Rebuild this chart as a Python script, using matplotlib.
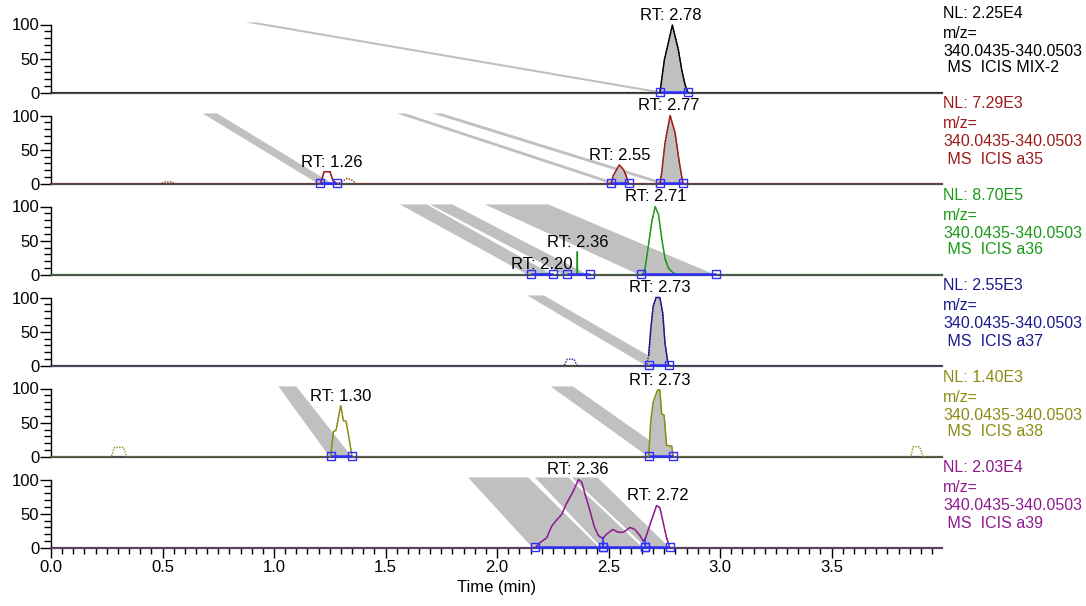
import numpy as np
import matplotlib
matplotlib.use('Agg')
import matplotlib.pyplot as plt
from matplotlib.ticker import MultipleLocator, FixedLocator

plt.rcParams['font.family'] = ['Liberation Sans', 'DejaVu Sans']

# ---------------- data ----------------
sample_names = ['MIX-2', 'a35', 'a36', 'a37', 'a38', 'a39']
nl_values = ['2.25E4', '7.29E3', '8.70E5', '2.55E3', '1.40E3', '2.03E4']
mz_range = '340.0435-340.0503'
colors = ['#000000', '#9B1B1B', '#1A991A', '#1A1A8C', '#8C8C14', '#8E1A8E']

# traces: time (min) / relative abundance (%)
mix2_t = [0.0, 2.73, 2.738, 2.75, 2.786, 2.813, 2.828, 2.843, 2.857, 4.0]
mix2_y = [0, 0, 19, 48, 99, 63, 34, 12, 0, 0]

a35_t = [0.0, 0.49, 0.51, 0.54, 0.56, 1.206, 1.214, 1.224, 1.251, 1.263, 1.281,
         1.303, 1.326, 1.348, 1.37, 2.51, 2.522, 2.548, 2.567, 2.58, 2.59,
         2.73, 2.738, 2.753, 2.776, 2.798, 2.818, 2.828, 2.835, 4.0]
a35_y = [0, 0, 3, 3, 0, 0, 6, 18, 18, 6, 0,
         3, 8, 6, 0, 0, 13, 28, 21, 11, 0,
         0, 16, 60, 100, 75, 30, 11, 0, 0]

a36_t = [0.0, 2.15, 2.20, 2.25, 2.315, 2.3595, 2.36, 2.3605, 2.415,
         2.645, 2.655, 2.664, 2.679, 2.694, 2.709, 2.724, 2.738, 2.753, 2.768, 2.79, 2.81, 2.98, 4.0]
a36_y = [0, 0, 2, 0, 0, 0, 34, 0, 0,
         0, 0, 10, 44, 78, 100, 88, 54, 24, 10, 3, 0, 0, 0]

a37_t = [0.0, 2.30, 2.315, 2.345, 2.36, 2.67, 2.68, 2.689, 2.70, 2.713, 2.73,
         2.743, 2.753, 2.764, 2.77, 4.0]
a37_y = [0, 0, 10, 10, 0, 0, 16, 53, 87, 100, 100,
         77, 33, 9, 0, 0]

a38_t = [0.0, 0.27, 0.285, 0.325, 0.34, 1.254, 1.266, 1.278, 1.299, 1.311, 1.323, 1.333, 1.35,
         2.68, 2.689, 2.70, 2.72, 2.73, 2.738, 2.749, 2.76, 2.783, 2.79,
         3.855, 3.865, 3.895, 3.91, 4.0]
a38_y = [0, 0, 14, 14, 0, 0, 37, 39, 75, 53, 52, 34, 0,
         0, 53, 80, 98, 98, 63, 61, 17, 16, 0,
         0, 15, 15, 0, 0]

a39_t = [0.0, 2.17, 2.193, 2.223, 2.245, 2.27, 2.29, 2.31, 2.342, 2.365, 2.38, 2.395,
         2.417, 2.435, 2.454, 2.475, 2.49, 2.519, 2.543, 2.567, 2.596, 2.618, 2.641,
         2.656, 2.664, 2.693, 2.715, 2.73, 2.745, 2.76, 2.775, 4.0]
a39_y = [0, 0, 8, 15, 32, 42, 49, 64, 83, 100, 96, 78,
         54, 32, 18, 14, 20, 27, 23, 23, 30, 27, 18,
         10, 13, 41, 62, 59, 37, 15, 0, 0]

# integration windows (start, end) and whether the peak area is shaded
mix2_win = [(2.73, 2.857)]
a35_win = [(1.206, 1.281), (2.51, 2.59), (2.73, 2.835)]
a36_win = [(2.15, 2.25), (2.315, 2.415), (2.645, 2.98)]
a37_win = [(2.68, 2.77)]
a38_win = [(1.254, 1.35), (2.68, 2.79)]
a39_win = [(2.17, 2.475), (2.475, 2.664), (2.664, 2.775)]

mix2_fill = [True]
a35_fill = [False, True, True]
a36_fill = [False, False, False]
a37_fill = [True]
a38_fill = [False, True]
a39_fill = [False, False, False]

# retention-time labels
mix2_rt = [2.78]
a35_rt = [1.26, 2.55, 2.77]
a36_rt = [2.20, 2.36, 2.71]
a37_rt = [2.73]
a38_rt = [1.30, 2.73]
a39_rt = [2.36, 2.72]

# grey shading bands (top-left x, top-right x, bottom-left x, bottom-right x)
mix2_bands = [(0.87, 0.925, 2.72, 2.775)]
a35_bands = [(0.68, 0.745, 1.20, 1.265), (1.55, 1.59, 2.51, 2.55), (1.71, 1.753, 2.73, 2.773)]
a36_bands = [(1.565, 1.685, 2.14, 2.25), (1.70, 1.80, 2.30, 2.41), (1.945, 2.23, 2.64, 2.98)]
a37_bands = [(2.135, 2.21, 2.67, 2.76)]
a38_bands = [(1.02, 1.10, 1.25, 1.35), (2.24, 2.34, 2.68, 2.79)]
a39_bands = [(1.87, 2.14, 2.16, 2.46), (2.17, 2.32, 2.47, 2.655), (2.335, 2.45, 2.67, 2.775)]
band_top = 103

# vertical drop lines between adjacent integrated peaks (a39)
a39_drops = [2.475, 2.664]

traces_t = [mix2_t, a35_t, a36_t, a37_t, a38_t, a39_t]
traces_y = [mix2_y, a35_y, a36_y, a37_y, a38_y, a39_y]
windows = [mix2_win, a35_win, a36_win, a37_win, a38_win, a39_win]
fills = [mix2_fill, a35_fill, a36_fill, a37_fill, a38_fill, a39_fill]
rts = [mix2_rt, a35_rt, a36_rt, a37_rt, a38_rt, a39_rt]
bands = [mix2_bands, a35_bands, a36_bands, a37_bands, a38_bands, a39_bands]
drops = [[], [], [], [], [], a39_drops]

# ---------------- layout ----------------
W, H = 1086, 606
fig = plt.figure(figsize=(W / 100, H / 100), dpi=100)
left_px, right_px = 51, 942
base_px = [93, 184, 275, 366, 457, 548]
px_per_pct = 0.685
YMAX = 132
GREY = '#C0C0C0'
BLUE = '#2E2EFF'

n = len(sample_names)
for i in range(n):
    b = base_px[i]
    ax = fig.add_axes([left_px / W, 1 - b / H, (right_px - left_px) / W, YMAX * px_per_pct / H])
    ax.set_xlim(0, 3.995)
    ax.set_ylim(0, YMAX)
    ax.patch.set_alpha(0)
    col = colors[i]
    t = np.array(traces_t[i], dtype=float)
    y = np.array(traces_y[i], dtype=float)

    # shading bands
    for (xa, xb, xc, xd) in bands[i]:
        ax.fill([xa, xb, xd, xc], [band_top, band_top, 0, 0], color=GREY, lw=0, zorder=1)

    # peak fills
    for (s, e), f in zip(windows[i], fills[i]):
        if f:
            m = (t >= s - 1e-9) & (t <= e + 1e-9)
            ax.fill_between(t[m], y[m], 0, color=GREY, lw=0, zorder=1.5)

    # dotted whole trace
    ax.plot(t, y, color=col, lw=1.0, ls=(0, (1, 1)), zorder=3)
    # solid integrated parts
    for (s, e) in windows[i]:
        m = (t >= s - 1e-9) & (t <= e + 1e-9)
        ax.plot(t[m], y[m], color=col, lw=1.0, zorder=3.2)

    # drop lines
    for d in drops[i]:
        ax.plot([d, d], [0, np.interp(d, t, y)], color=BLUE, lw=1.2, zorder=4)

    # integration baselines + markers
    for (s, e) in windows[i]:
        ax.plot([s, e], [0.8, 0.8], color=BLUE, lw=1.8, zorder=4, clip_on=False,
                solid_capstyle='butt')
        ax.plot([s, e], [1.8, 1.8], 's', ms=6, mfc='none', mec=BLUE, mew=1.0,
                zorder=5, clip_on=False)

    # RT labels
    for rt in rts[i]:
        m = np.abs(t - rt) <= 0.03
        h = y[m].max() if m.any() else 0
        ax.annotate(f'RT: {rt:.2f}', xy=(rt, h), xytext=(0, 1.5),
                    textcoords='offset points', ha='center', va='bottom',
                    fontsize=12, zorder=6, annotation_clip=False)

    # right-side labels
    lines = [(f'NL: {nl_values[i]}', 80), ('m/z=', 60), (mz_range, 42),
             (f' MS  ICIS {sample_names[i]}', 25)]
    for txt, off in lines:
        ax.annotate(txt, xy=(1, 0), xycoords='axes fraction', xytext=(1, off),
                    textcoords='offset pixels', ha='left', va='center',
                    fontsize=11.5, color=col, annotation_clip=False)

    # spines / ticks
    ax.spines['top'].set_visible(False)
    ax.spines['right'].set_visible(False)
    ax.spines['left'].set_bounds(0, 100)
    ax.spines['left'].set_linewidth(1.0)
    ax.spines['bottom'].set_color('#4D4D4D')
    ax.spines['bottom'].set_linewidth(1.6)
    ax.spines['bottom'].set_zorder(2.5)
    ax.yaxis.set_major_locator(FixedLocator([0, 50, 100]))
    ax.yaxis.set_minor_locator(FixedLocator(list(range(0, 101, 10))))
    ax.set_yticklabels(['0', '50', '100'])
    ax.tick_params(axis='y', which='major', length=8, width=1.0, pad=0.5, labelsize=12)
    ax.tick_params(axis='y', which='minor', length=5, width=1.0)

    if i == n - 1:
        ax.xaxis.set_major_locator(MultipleLocator(0.5))
        ax.xaxis.set_minor_locator(MultipleLocator(0.05))
        ax.xaxis.set_major_formatter(matplotlib.ticker.FormatStrFormatter('%.1f'))
        ax.tick_params(axis='x', which='major', length=7, width=1.0, pad=2, labelsize=12)
        ax.tick_params(axis='x', which='minor', length=4, width=1.0)
        ax.set_xlabel('Time (min)', fontsize=12, labelpad=3)
    else:
        ax.tick_params(axis='x', which='both', bottom=False, labelbottom=False)

fig.savefig('out.png', dpi=100)
